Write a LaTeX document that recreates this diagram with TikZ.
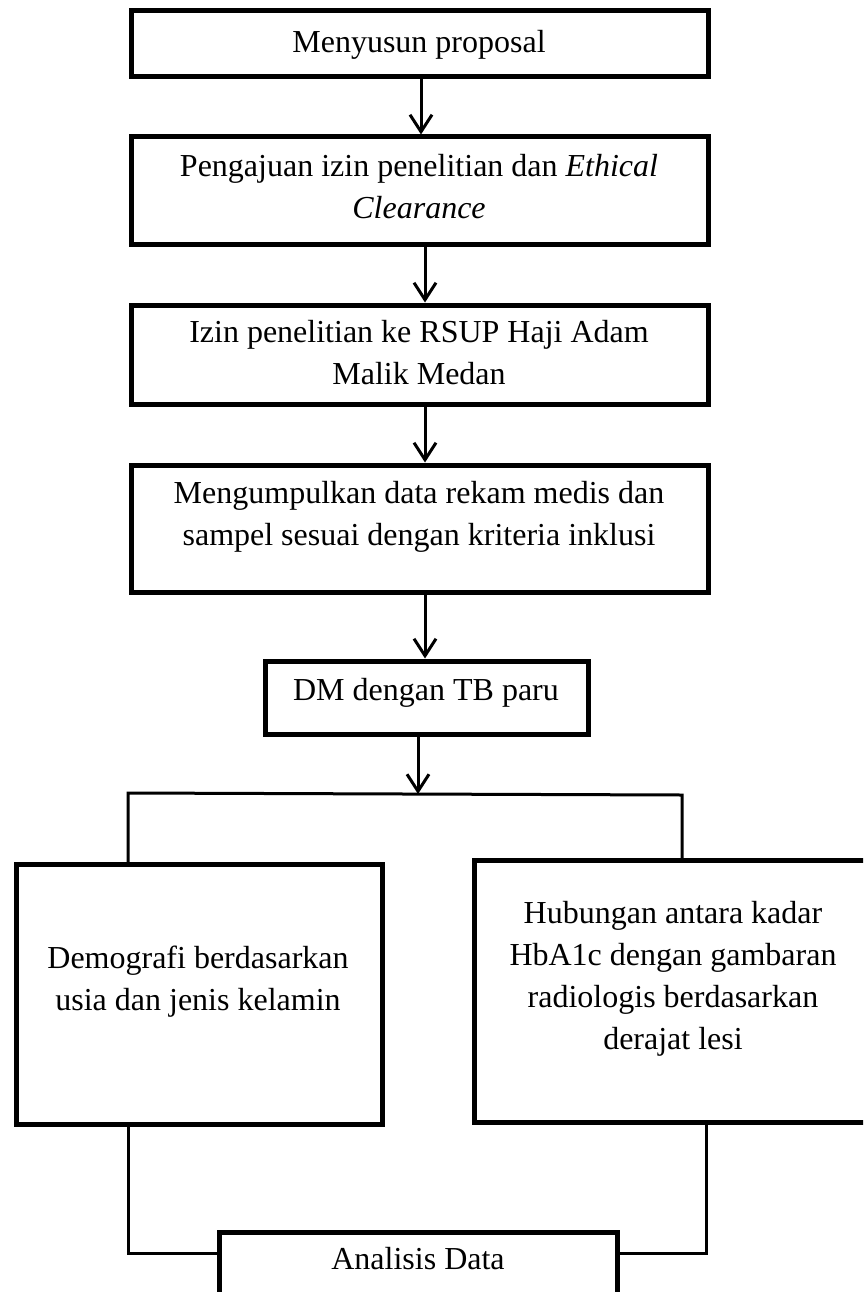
\documentclass[tikz,border=0pt]{standalone}
\usepackage{fontspec}
\setmainfont{Liberation Serif}
\usetikzlibrary{arrows.meta}
\begin{document}
\begin{tikzpicture}[x=1pt,y=-1pt,
  box/.style={draw, line width=5pt, inner sep=0pt, outer sep=0pt, anchor=north west, line join=miter},
  txt/.style={inner sep=0pt, align=center, font=\fontsize{32}{42}\selectfont},
  conn/.style={line width=3pt},
  arr/.style={line width=3pt, -{Straight Barb[length=17pt,width=22pt]}, shorten >=2.5pt}]
\useasboundingbox (0,0) rectangle (863,1292);
\clip (0,0) rectangle (863,1292);
% boxes (border centre lines)
\node[box, minimum width=577pt, minimum height=66pt]  (b1) at (131,11) {};
\node[box, minimum width=577pt, minimum height=107pt] (b2) at (131,137) {};
\node[box, minimum width=577pt, minimum height=99pt]  (b3) at (131,305) {};
\node[box, minimum width=577pt, minimum height=127pt] (b4) at (131,465) {};
\node[box, minimum width=323pt, minimum height=73pt]  (b5) at (265,661) {};
\node[box, minimum width=366pt, minimum height=260pt] (L)  at (16,864) {};
\node[box, minimum width=426pt, minimum height=262pt] (R)  at (474,860) {};
\node[box, minimum width=398pt, minimum height=88pt]  (A)  at (219,1232) {};
% texts
\node[txt] (t1) at (419,44.6) {Menyusun proposal};
\node[txt] (t2) at (419,186.5) {Pengajuan izin penelitian dan \textit{Ethical}\\ \textit{Clearance}};
\node[txt] (t3) at (419,353) {Izin penelitian ke RSUP Haji Adam\\ Malik Medan};
\node[txt] (t4) at (419,516.5) {Mengumpulkan data rekam medis dan\\ sampel sesuai dengan kriteria inklusi};
\node[txt] (t5) at (426,692.6) {DM dengan TB paru};
\node[txt] (t6) at (198,981.5) {Demografi berdasarkan\\ usia dan jenis kelamin};
\node[txt] (t7) at (673,979) {Hubungan antara kadar\\ HbA1c dengan gambaran\\ radiologis berdasarkan\\ derajat lesi};
\node[txt] (t8) at (418,1259) {Analisis Data};
% connector points
\coordinate (ax1) at (421,0);
\coordinate (ax2) at (425,0);
\coordinate (split) at (418,794);
\coordinate (hl) at (128,793);
\coordinate (hr) at (682,795);
\coordinate (bl) at (128,1253);
\coordinate (br) at (706,1253);
% arrows
\draw[arr] (b1.south -| ax1) -- (b2.north -| ax1);
\draw[arr] (b2.south -| ax2) -- (b3.north -| ax2);
\draw[arr] (b3.south -| ax2) -- (b4.north -| ax2);
\draw[arr] (b4.south -| ax2) -- (b5.north -| ax2);
\draw[arr, shorten >=0pt] (b5.south -| split) -- (split);
% branch lines
\draw[conn] (L.north -| hl) -- (hl) -- (hr) -- ([yshift=2pt]R.north -| hr);
\draw[conn] (L.south -| bl) -- (bl) -- (A.west |- bl);
\draw[conn] (R.south -| br) -- (br) -- (A.east |- br);
\end{tikzpicture}
\end{document}
